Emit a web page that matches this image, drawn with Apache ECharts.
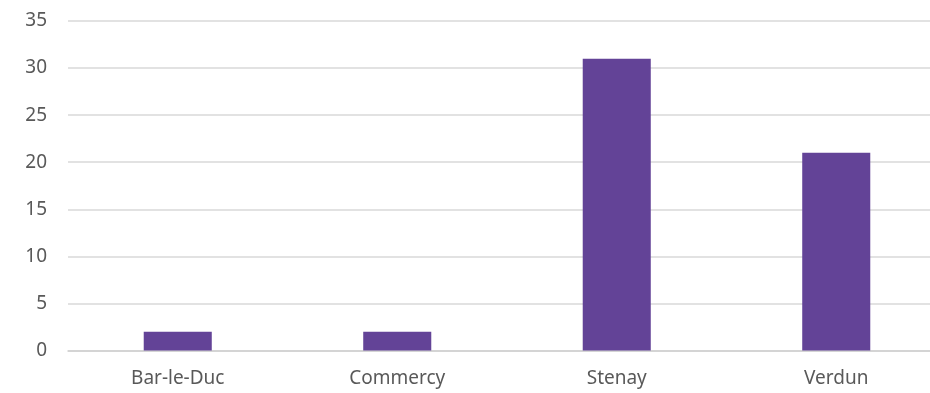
<!DOCTYPE html>
<html>
<head>
<meta charset="utf-8">
<script src="https://cdn.jsdelivr.net/npm/echarts@6/dist/echarts.min.js"></script>
<style>
  html, body { margin: 0; padding: 0; background: #fff; overflow: hidden; }
  #chart { width: 930px; height: 393px; }
</style>
</head>
<body>
<div id="chart"></div>
<script>
// Towns and their counts
const categories = ['Bar-le-Duc', 'Commercy', 'Stenay', 'Verdun'];
const values = [2, 2, 31, 21];
const yTicks = { min: 0, max: 35, interval: 5 };

const labelFont = 'Noto Sans, sans-serif';

const chart = echarts.init(document.getElementById('chart'), null, { renderer: 'canvas' });
chart.setOption({
  animation: false,
  // plot area runs slightly past the right edge of the canvas
  grid: {
    left: 68, width: 878, top: 21, bottom: 42.5,
    containLabel: false, outerBoundsMode: 'none'
  },
  xAxis: {
    type: 'category',
    data: categories,
    axisLine: { show: true, lineStyle: { color: '#d0d0d0', width: 1.5 } },
    axisTick: { show: false },
    axisLabel: { color: '#595959', fontSize: 19, fontFamily: labelFont, margin: 19 }
  },
  yAxis: {
    type: 'value',
    min: yTicks.min,
    max: yTicks.max,
    interval: yTicks.interval,
    axisLine: { show: false },
    axisTick: { show: false },
    axisLabel: { color: '#595959', fontSize: 19, fontFamily: labelFont, margin: 21 },
    splitLine: { lineStyle: { color: '#d9d9d9', width: 1.5 } }
  },
  series: [{
    type: 'bar',
    data: values,
    barWidth: '31%',
    itemStyle: { color: '#634397' }
  }]
});
</script>
</body>
</html>
